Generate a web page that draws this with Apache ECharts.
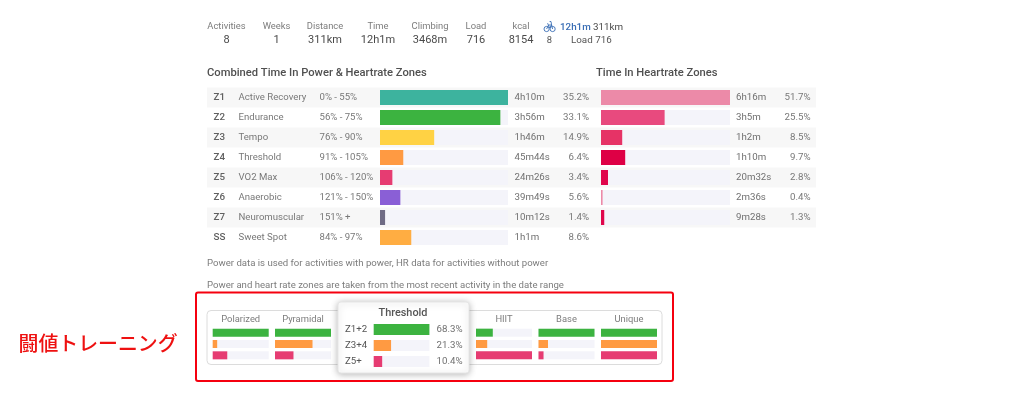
<!DOCTYPE html>
<html>
<head>
<meta charset="utf-8">
<style>html,body{margin:0;padding:0;background:#fff}#c{width:1024px;height:400px}</style>
<script src="https://cdn.jsdelivr.net/npm/echarts@6/dist/echarts.min.js"></script>
</head>
<body>
<div id="c"></div>
<script>
// ---- data ----
const statLabels = ['Activities','Weeks','Distance','Time','Climbing','Load','kcal'];
const statValues = ['8','1','311km','12h1m','3468m','716','8154'];
const zoneIds = ['Z1','Z2','Z3','Z4','Z5','Z6','Z7','SS'];
const zoneNames = ['Active Recovery','Endurance','Tempo','Threshold','VO2 Max','Anaerobic','Neuromuscular','Sweet Spot'];
const zoneRanges = ['0% - 55%','56% - 75%','76% - 90%','91% - 105%','106% - 120%','121% - 150%','151% +','84% - 97%'];
const powerTimes = ['4h10m','3h56m','1h46m','45m44s','24m26s','39m49s','10m12s','1h1m'];
const powerPct = [35.2,33.1,14.9,6.4,3.4,5.6,1.4,8.6];
const hrTimes = ['6h16m','3h5m','1h2m','1h10m','20m32s','2m36s','9m28s'];
const hrPct = [51.7,25.5,8.5,9.7,2.8,0.4,1.3];
const tileNames = ['Polarized','Pyramidal','HIIT','Base','Unique'];
const tileBands = ['Z1+2','Z3+4','Z5+'];
const tilePolarized = [100,8,26];
const tilePyramidal = [100,67,33];
const tileHiit = [30,20,100];
const tileBase = [100,17,9];
const tileUnique = [100,100,100];
const thresholdPct = [68.3,21.3,10.4];

// ---- styles ----
const powerColors = ['#3db39e','#3cb340','#ffd244','#ff9a42','#e63c72','#8a5fd6','#6f6b85','#ffad42'];
const hrColors = ['#ec8aa8','#e84a7e','#e63366','#de0045','#e0064c','#ec8aa8','#e0064c'];
const bandColors = ['#3cb340','#ff9a42','#e63c72'];
const FONT = 'Roboto';
const GREY = '#707070', BAR_BG = '#f4f4fa';

const g = [];
function txt(x,y,text,o){o=o||{};g.push({type:'text',x:x,y:y+0.5,z:o.z||1,style:{text:text,fontFamily:o.font||FONT,fontSize:o.size||9.6,fontWeight:o.weight||400,fill:o.fill||GREY,textAlign:o.align||'left',textVerticalAlign:'middle'}});}
function rect(x,y,w,h,style,z,r){g.push({type:'rect',z:z||0,shape:{x:x,y:y,width:w,height:h,r:r||0},style:style});}

// header
const statX = [226.5,276.5,325,378,430,476,521];
statLabels.forEach((t,i)=>{txt(statX[i],26.5,t,{align:'center',size:9.4,fill:'#7c7c7c'});txt(statX[i],40,statValues[i],{align:'center',size:11,fill:'#4a4a4a'});});
txt(560,27,'12h1m',{size:9.8,fill:'#3a6eb5',weight:500});
txt(593,27,'311km',{size:9.8,fill:'#4a4a4a'});
txt(549.5,40,'8',{size:9.4,align:'center',fill:'#555'});
txt(571,40,'Load 716',{size:9.8,fill:'#555'});
// bike icon
const bike={stroke:'#3a6eb5',lineWidth:0.9,fill:'none'};
g.push({type:'circle',shape:{cx:546.6,cy:29,r:2.6},style:bike});
g.push({type:'circle',shape:{cx:552.6,cy:29,r:2.6},style:bike});
g.push({type:'polyline',shape:{points:[[546.6,29],[548.6,25],[551.6,25],[552.6,29]]},style:bike});
g.push({type:'polyline',shape:{points:[[547.6,23.2],[549.6,28],[551.6,25],[551,21.5],[549.6,21.5]]},style:bike});

// section titles
txt(207,73,'Combined Time In Power & Heartrate Zones',{size:11.2,weight:500,fill:'#505050'});
txt(596,73,'Time In Heartrate Zones',{size:11.2,weight:500,fill:'#505050'});

// table rows
zoneIds.forEach((id,i)=>{
  const y=97.5+20*i;
  if(i%2===0) rect(207,y-10,609,20,{fill:'#f7f7f7'},-1);
  txt(213.5,y,id,{weight:500,size:9.8,fill:'#606060'});
  txt(238.5,y,zoneNames[i],{fill:'#787878'});
  txt(319.5,y,zoneRanges[i],{fill:'#787878'});
  txt(514.5,y,powerTimes[i],{size:9.7});
  txt(589,y,powerPct[i].toFixed(1)+'%',{align:'right',size:9.7,fill:'#787878'});
  if(i<hrTimes.length){
    txt(736,y,hrTimes[i],{size:9.7});
    txt(810.5,y,hrPct[i].toFixed(1)+'%',{align:'right',size:9.7,fill:'#787878'});
  }
});
txt(207,263,'Power data is used for activities with power, HR data for activities without power',{size:9.6,fill:'#7c7c7c'});
txt(207,285,'Power and heart rate zones are taken from the most recent activity in the date range',{size:9.6,fill:'#7c7c7c'});

// bottom card
rect(207,310.5,455,54,{fill:'#fff',stroke:'#dcdcdc',lineWidth:1},0,4);
const tileX=[212.7,275,476,538.5,601];
tileNames.forEach((t,i)=>txt(tileX[i]+28,319,t,{align:'center',size:9.4,fill:'#7c7c7c'}));

// popup
rect(338,302,131,71,{fill:'#fff',stroke:'#e6e6e6',lineWidth:1,shadowBlur:7,shadowColor:'rgba(0,0,0,0.28)',shadowOffsetY:1},5,3);
txt(403,312.5,'Threshold',{size:10.9,weight:500,fill:'#555',z:6,align:'center'});
tileBands.forEach((b,i)=>{
  const y=329.5+16*i;
  txt(345,y,b,{size:9.7,fill:'#555',z:6});
  txt(462.5,y,thresholdPct[i].toFixed(1)+'%',{size:9.7,align:'right',z:6});
});

// annotation frame and label
rect(196,292.5,477,88.5,{fill:'none',stroke:'#f5000f',lineWidth:2},8,2);
txt(18.5,343,'闘値トレーニング',{size:19.9,fill:'#ee1111',weight:500,font:'"Noto Sans CJK JP"'});

// ---- charts ----
const grids=[],xAxes=[],yAxes=[],series=[];
function panel(cats,vals,colors,box,barW,maxV,z){
  const k=grids.length;
  grids.push({left:box[0],top:box[1],width:box[2],height:box[3],containLabel:false});
  xAxes.push({type:'value',gridIndex:k,min:0,max:maxV,show:false});
  yAxes.push({type:'category',gridIndex:k,data:cats,inverse:true,show:false});
  series.push({type:'bar',xAxisIndex:k,yAxisIndex:k,barWidth:barW,barMinHeight:1.6,silent:true,animation:false,z:z||2,
    showBackground:true,backgroundStyle:{color:BAR_BG},
    data:vals.map((v,i)=>({value:v,itemStyle:{color:colors[i]}}))});
}
panel(zoneIds,powerPct,powerColors,[380,87.5,128,160],15,Math.max(...powerPct));
panel(zoneIds.slice(0,7),hrPct,hrColors,[601,87.5,129,140],15,Math.max(...hrPct));
[tilePolarized,tilePyramidal,tileHiit,tileBase,tileUnique].forEach((vals,i)=>{
  panel(tileBands,vals,bandColors,[tileX[i],327,56,34],8,100);
});
panel(tileBands,thresholdPct,bandColors,[373.7,321.5,55.7,48],11,Math.max(...thresholdPct),7);

const chart=echarts.init(document.getElementById('c'),null,{renderer:'canvas'});
chart.setOption({animation:false,backgroundColor:'#fff',tooltip:{show:false},grid:grids,xAxis:xAxes,yAxis:yAxes,series:series,graphic:{elements:g}});
</script>
</body>
</html>
